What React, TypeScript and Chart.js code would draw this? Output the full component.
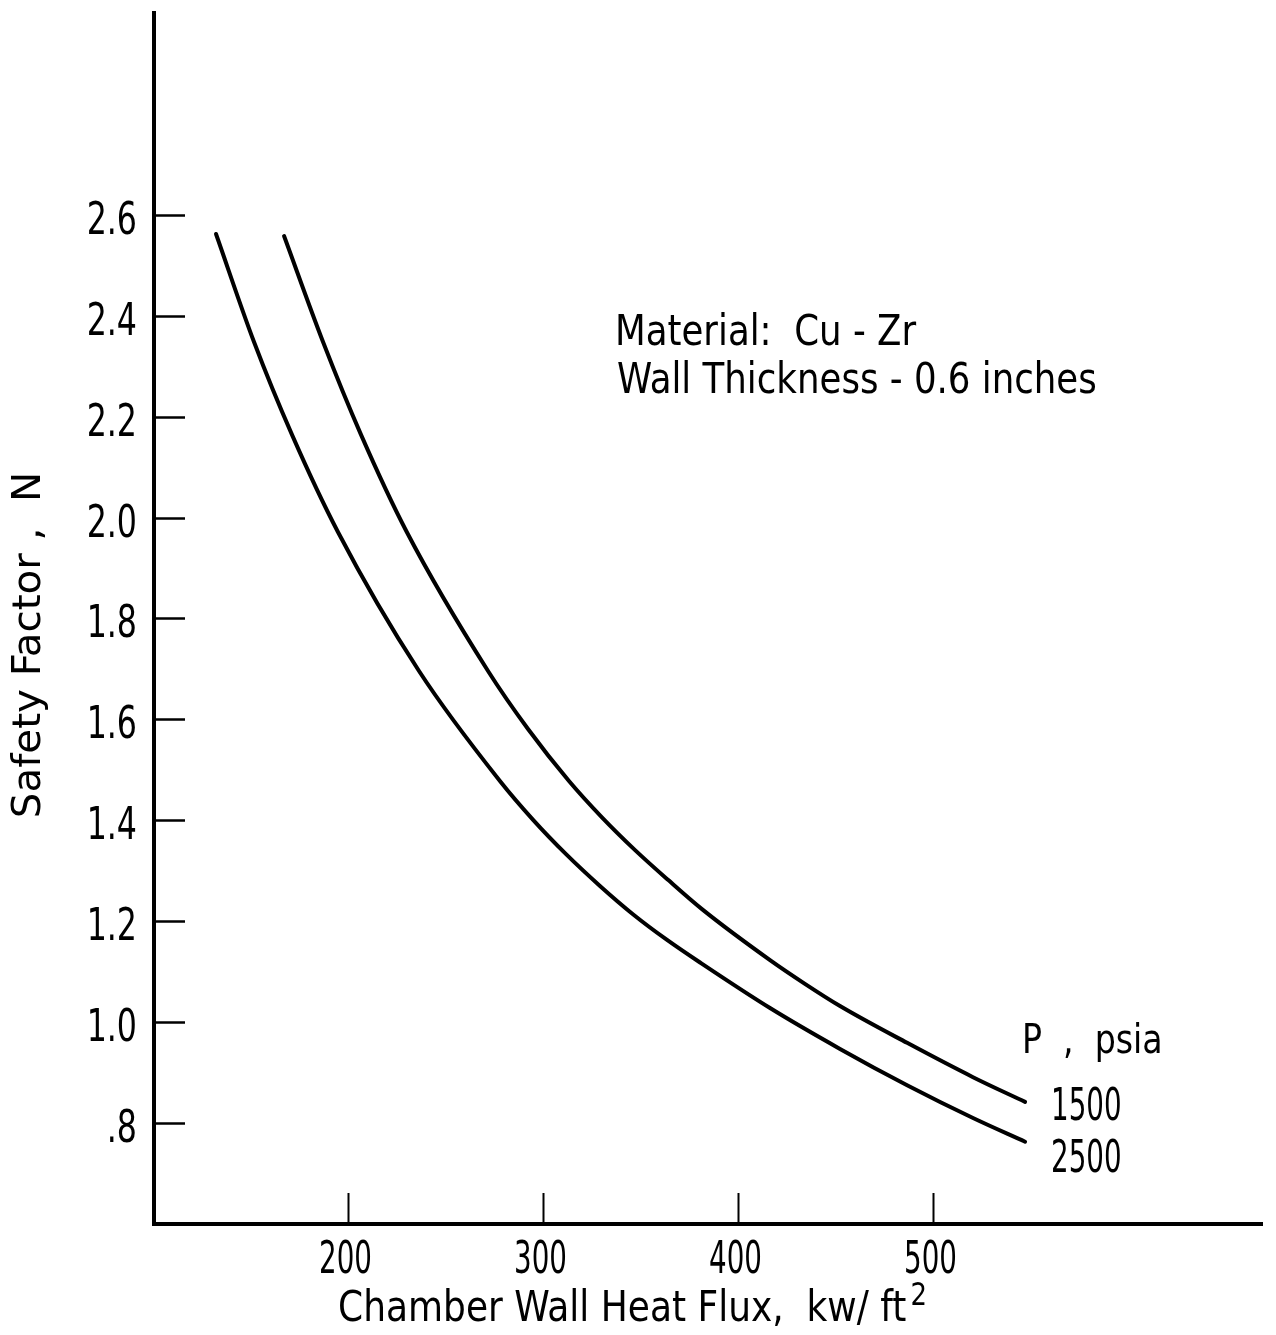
import React, { useEffect, useRef } from 'react';
import { Chart, registerables } from 'chart.js';

Chart.register(...registerables);

const FONT = "'Liberation Sans Narrow', 'DejaVu Sans Condensed', 'Liberation Sans', sans-serif";

// Curve P = 1500 psia
const flux1500 = [167.2, 187.2, 206.7, 230.2, 271.8, 292.3, 313.3, 330.2, 347.2, 364.1, 381.5, 416.4, 434.3, 452.3, 486.7, 520.5, 547.2];
const safety1500 = [2.558, 2.348, 2.164, 1.971, 1.696, 1.581, 1.478, 1.406, 1.341, 1.282, 1.224, 1.123, 1.076, 1.032, 0.959, 0.891, 0.842];

// Curve P = 2500 psia
const flux2500 = [132.3, 151.8, 171.3, 194.9, 236.4, 277.9, 294.9, 311.8, 329.2, 346.1, 363.6, 381.0, 416.4, 452.3, 486.7, 520.5, 547.2];
const safety2500 = [2.562, 2.348, 2.164, 1.971, 1.696, 1.478, 1.401, 1.333, 1.27, 1.214, 1.163, 1.117, 1.028, 0.947, 0.875, 0.81, 0.763];

const xTickValues = [200, 300, 400, 500];
const xTickLabels = ['200', '300', '400', '500'];
const yTickValues = [0.8, 1.0, 1.2, 1.4, 1.6, 1.8, 2.0, 2.2, 2.4, 2.6];
const yTickLabels = ['.8', '1.0', '1.2', '1.4', '1.6', '1.8', '2.0', '2.2', '2.4', '2.6'];

const pressureTitle = 'P  ,  psia';
const pressureLabels = ['1500', '2500'];
const noteLines = ['Material:  Cu - Zr', 'Wall Thickness - 0.6 inches'];
const xTitle = 'Chamber Wall Heat Flux,  kw/ ft';
const xTitleSup = '2';
const yTitle = 'Safety Factor ,  N';

const X_MIN = 100.5;
const X_MAX = 668.7;
const Y_MIN = 0.6;
const Y_MAX = 3.0;

const toPoints = (xs: number[], ys: number[]) => xs.map((x, i) => ({ x, y: ys[i] }));

function squeezedText(ctx: any, text: string, x: number, y: number, sx: number, align: string) {
  ctx.save();
  ctx.translate(x, y);
  ctx.scale(sx, 1);
  ctx.textAlign = align;
  ctx.fillText(text, 0, 0);
  ctx.restore();
}

const decorPlugin = {
  id: 'decor',
  afterDraw(chart: any) {
    const { ctx, chartArea, scales } = chart;
    const xs = scales.x;
    const ys = scales.y;
    ctx.save();
    ctx.strokeStyle = '#000';
    ctx.fillStyle = '#000';
    ctx.lineCap = 'butt';
    ctx.textBaseline = 'alphabetic';

    // y ticks (inward) and labels
    ctx.lineWidth = 2.5;
    ctx.font = `44px ${FONT}`;
    yTickValues.forEach((v, i) => {
      const py = Math.round(ys.getPixelForValue(v)) + 0.5;
      ctx.beginPath();
      ctx.moveTo(chartArea.left, py);
      ctx.lineTo(chartArea.left + 31, py);
      ctx.stroke();
      squeezedText(ctx, yTickLabels[i], chartArea.left - 17, py + 18, 0.8, 'right');
    });

    // x ticks (inward) and labels
    ctx.lineWidth = 2;
    xTickValues.forEach((v, i) => {
      const px = Math.round(xs.getPixelForValue(v)) + 0.5;
      ctx.beginPath();
      ctx.moveTo(px, chartArea.bottom);
      ctx.lineTo(px, chartArea.bottom - 31);
      ctx.stroke();
      squeezedText(ctx, xTickLabels[i], px - 3, chartArea.bottom + 49, 0.7, 'center');
    });

    // x title
    ctx.font = `43px ${FONT}`;
    const sxTitle = 0.93;
    squeezedText(ctx, xTitle, 338, 1321, sxTitle, 'left');
    const w = ctx.measureText(xTitle).width * sxTitle;
    ctx.font = `32px ${FONT}`;
    squeezedText(ctx, xTitleSup, 338 + w + 4, 1305, 0.9, 'left');

    // y title
    ctx.save();
    ctx.translate(40, 645);
    ctx.rotate(-Math.PI / 2);
    ctx.scale(1.15, 1);
    ctx.textAlign = 'center';
    ctx.font = `39px ${FONT}`;
    ctx.fillText(yTitle, 0, 0);
    ctx.restore();

    // notes
    ctx.font = `43px ${FONT}`;
    squeezedText(ctx, noteLines[0], 615, 345, 0.92, 'left');
    squeezedText(ctx, noteLines[1], 617, 393, 0.92, 'left');

    // pressure labels
    ctx.font = `41px ${FONT}`;
    squeezedText(ctx, pressureTitle, 1022, 1053, 0.9, 'left');
    ctx.font = `44px ${FONT}`;
    squeezedText(ctx, pressureLabels[0], 1051, 1120, 0.7, 'left');
    squeezedText(ctx, pressureLabels[1], 1051, 1172, 0.7, 'left');

    ctx.restore();
  },
};

export default function App() {
  const ref = useRef<HTMLCanvasElement | null>(null);

  useEffect(() => {
    const canvas = ref.current;
    if (!canvas) return;
    const lineStyle = {
      borderColor: '#000',
      borderWidth: 4,
      pointRadius: 0,
      cubicInterpolationMode: 'monotone',
      borderCapStyle: 'round',
      fill: false,
    };
    const chart = new Chart(canvas, {
      type: 'line',
      data: {
        datasets: [
          { label: '1500', data: toPoints(flux1500, safety1500), ...lineStyle },
          { label: '2500', data: toPoints(flux2500, safety2500), ...lineStyle },
        ],
      },
      options: {
        animation: false,
        responsive: false,
        devicePixelRatio: 1,
        layout: { padding: { top: 13, right: 14, left: 0, bottom: 0 } },
        plugins: {
          legend: { display: false },
          tooltip: { enabled: false },
          title: { display: false },
        },
        scales: {
          x: {
            type: 'linear',
            min: X_MIN,
            max: X_MAX,
            grid: { display: false },
            ticks: { display: false },
            border: { display: true, color: '#000', width: 4 },
            afterFit: (s: any) => {
              s.height = 111;
            },
          },
          y: {
            type: 'linear',
            min: Y_MIN,
            max: Y_MAX,
            grid: { display: false },
            ticks: { display: false },
            border: { display: true, color: '#000', width: 4 },
            afterFit: (s: any) => {
              s.width = 154;
            },
          },
        },
      } as any,
      plugins: [decorPlugin],
    });
    return () => chart.destroy();
  }, []);

  return (
    <div style={{ position: 'absolute', left: 0, top: 0, width: 1276, height: 1335, background: '#fff' }}>
      <canvas ref={ref} width={1276} height={1335} style={{ width: 1276, height: 1335, display: 'block' }} />
    </div>
  );
}
